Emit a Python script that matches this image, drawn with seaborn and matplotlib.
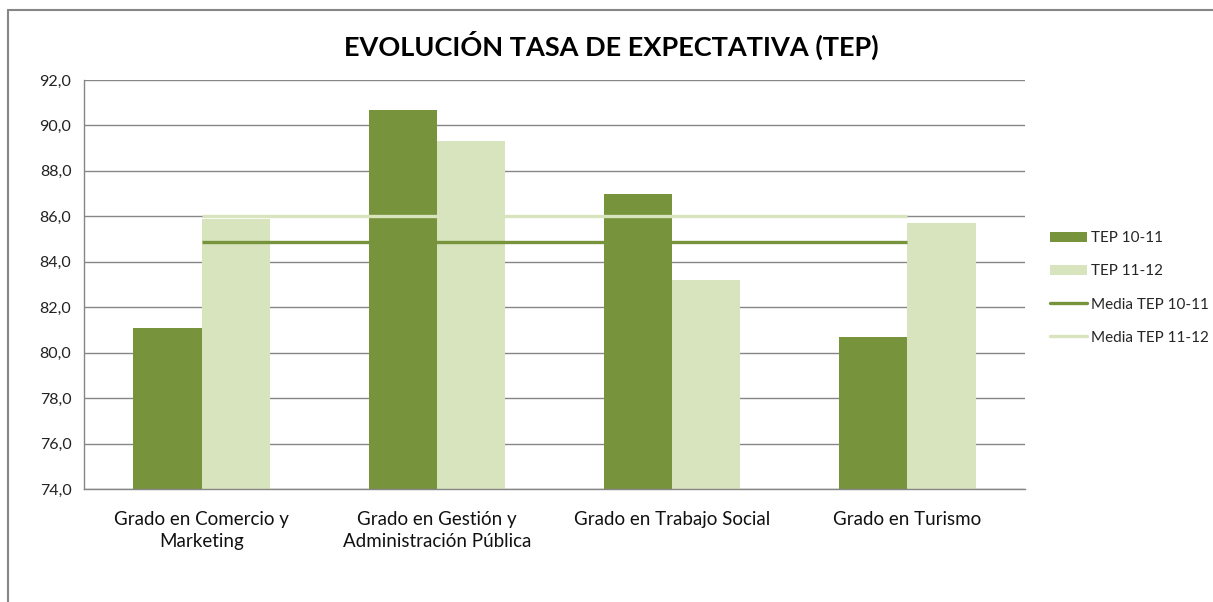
import numpy as np
import pandas as pd
import matplotlib
matplotlib.use('Agg')
import matplotlib.pyplot as plt
import seaborn as sns
from matplotlib.patches import Patch
from matplotlib.lines import Line2D
from matplotlib.ticker import FuncFormatter, FixedLocator

# datos del grafico
grados = ['Grado en Comercio y\nMarketing', 'Grado en Gestión y\nAdministración Pública',
          'Grado en Trabajo Social', 'Grado en Turismo']
tep_1011 = [81.1, 90.7, 87.0, 80.7]
tep_1112 = [85.9, 89.3, 83.2, 85.7]
series = ['TEP 10-11', 'TEP 11-12']
media_1011 = [np.mean(tep_1011)] * len(grados)
media_1112 = [np.mean(tep_1112)] * len(grados)

verde_osc = '#77933C'
verde_cla = '#D7E4BD'
gris = '#868686'

sns.set_style('white')
plt.rcParams['font.family'] = ['Lato', 'DejaVu Sans']

df = pd.DataFrame({
    'grado': grados * 2,
    'serie': [series[0]] * len(grados) + [series[1]] * len(grados),
    'valor': tep_1011 + tep_1112,
})

W, H = 1213, 602
fig = plt.figure(figsize=(W / 100, H / 100), dpi=100)
ax = fig.add_axes([84 / W, 1 - 489 / H, (1025 - 84) / W, (489 - 80) / H])

sns.barplot(data=df, x='grado', y='valor', hue='serie', palette=[verde_osc, verde_cla],
            saturation=1, width=0.58, gap=0, linewidth=0, ax=ax, legend=False, zorder=2)

pos = np.arange(len(grados))
ax.plot(pos, media_1011, color=verde_osc, lw=2.4, zorder=3, solid_capstyle='butt')
ax.plot(pos, media_1112, color=verde_cla, lw=2.4, zorder=3, solid_capstyle='butt')

ax.set_ylim(74, 92)
ax.set_xlim(-0.5, len(grados) - 0.5)
ax.set_yticks(np.arange(74, 92.1, 2))
ax.yaxis.set_major_formatter(FuncFormatter(lambda v, p: f'{v:.1f}'.replace('.', ',')))
ax.grid(axis='y', color=gris, lw=1, zorder=0)
ax.set_axisbelow(True)
ax.set_xlabel('')
ax.set_ylabel('')

for s in ['top', 'right']:
    ax.spines[s].set_visible(False)
for s in ['left', 'bottom']:
    ax.spines[s].set_color(gris)
    ax.spines[s].set_linewidth(1)

ax.tick_params(axis='y', length=5, color=gris, width=1, labelsize=11.5, labelcolor='#222222', pad=4)
ax.tick_params(axis='x', which='major', length=0, labelsize=13.5, labelcolor='#111111', pad=16)
for t in ax.get_xticklabels():
    t.set_linespacing(1.35)
ax.xaxis.set_minor_locator(FixedLocator(np.arange(-0.5, len(grados), 1.0)))
ax.tick_params(axis='x', which='minor', length=6, color=gris, width=1)

fig.text(611 / W, 1 - 45 / H, 'EVOLUCIÓN TASA DE EXPECTATIVA (TEP)', ha='center', va='center',
         fontsize=19.5, fontweight='bold', color='#000000')

handles = [Patch(facecolor=verde_osc, edgecolor='none'),
           Patch(facecolor=verde_cla, edgecolor='none'),
           Line2D([0], [0], color=verde_osc, lw=2.4),
           Line2D([0], [0], color=verde_cla, lw=2.4)]
labels = series + ['Media TEP 10-11', 'Media TEP 11-12']
fig.legend(handles, labels, loc='center left', bbox_to_anchor=(1044 / W, 1 - 288 / H),
           frameon=False, fontsize=11, labelspacing=1.25, handlelength=2.4,
           handletextpad=0.3, borderaxespad=0)

# marco del grafico
fig.add_artist(Line2D([8 / W, 1], [1 - 10 / H, 1 - 10 / H], color=gris, lw=1.5))
fig.add_artist(Line2D([8 / W, 8 / W], [0, 1 - 10 / H], color=gris, lw=1.5))

fig.savefig('out.png', dpi=100)
